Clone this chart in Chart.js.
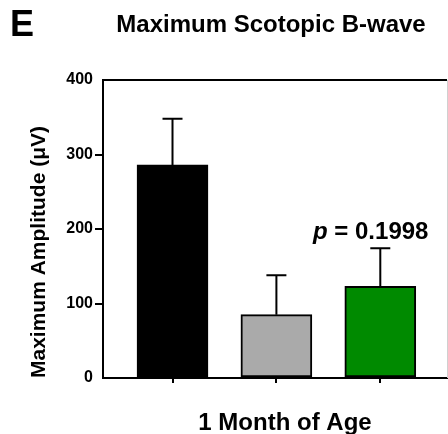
<!DOCTYPE html>
<html>
<head>
<meta charset="utf-8">
<script src="https://cdn.jsdelivr.net/npm/chart.js@4"></script>
<style>
  html, body { margin: 0; padding: 0; background: #fff; }
  #wrap { width: 448px; height: 434px; }
</style>
</head>
<body>
<div id="wrap"><canvas id="chart" width="448" height="434"></canvas></div>
<script>
// data
const groups = [1, 2, 3];
const means = [286, 85, 123];
const errors = [62, 53, 51];
const barColors = ['#000000', '#aaaaaa', '#008a00'];
const yTicks = [0, 100, 200, 300, 400];
const panelLetter = 'E';
const titleText = 'Maximum Scotopic B-wave';
const xTitle = '1 Month of Age';
const yTitle = 'Maximum Amplitude (\u03BCV)';
const pLabel = ['p', ' = 0.1998'];

const FONT = 'Arial, "Liberation Sans", sans-serif';

const extras = {
  id: 'extras',
  afterDatasetsDraw(chart) {
    const ctx = chart.ctx;
    const x = chart.scales.x, y = chart.scales.y;
    ctx.save();
    // error bars (upper whisker only)
    ctx.strokeStyle = '#000';
    ctx.lineWidth = 2;
    groups.forEach((g, i) => {
      const px = x.getPixelForValue(g);
      const y0 = y.getPixelForValue(means[i]);
      const y1 = y.getPixelForValue(means[i] + errors[i]);
      ctx.beginPath();
      ctx.moveTo(px, y0);
      ctx.lineTo(px, y1);
      ctx.moveTo(px - 10, y1);
      ctx.lineTo(px + 10, y1);
      ctx.stroke();
    });
    // frame top + right
    const a = chart.chartArea;
    ctx.beginPath();
    ctx.moveTo(a.left, a.top);
    ctx.lineTo(a.right, a.top);
    ctx.stroke();
    ctx.strokeStyle = '#d0d0d0';
    ctx.lineWidth = 1;
    ctx.beginPath();
    ctx.moveTo(a.right + 0.5, a.top);
    ctx.lineTo(a.right + 0.5, a.bottom);
    ctx.stroke();
    ctx.restore();
  },
  afterDraw(chart) {
    const ctx = chart.ctx;
    ctx.save();
    ctx.fillStyle = '#000';
    ctx.textBaseline = 'alphabetic';
    ctx.font = 'bold 36px ' + FONT;
    ctx.textAlign = 'left';
    ctx.fillText(panelLetter, 10, 36);
    ctx.font = 'bold 24px ' + FONT;
    ctx.textAlign = 'center';
    ctx.fillText(titleText, 271, 32);
    ctx.font = 'bold 24px ' + FONT;
    ctx.fillText(xTitle, 285, 430);
    // p value
    ctx.textAlign = 'left';
    ctx.font = 'italic bold 24px ' + FONT;
    ctx.fillText(pLabel[0], 313, 239);
    const w = ctx.measureText(pLabel[0]).width;
    ctx.font = 'bold 24px ' + FONT;
    ctx.fillText(pLabel[1], 313 + w, 239);
    ctx.restore();
  }
};

new Chart(document.getElementById('chart'), {
  type: 'bar',
  data: {
    datasets: [{
      data: groups.map((g, i) => ({ x: g, y: means[i] })),
      backgroundColor: barColors,
      borderColor: '#000',
      borderWidth: 2,
      borderSkipped: false,
      barThickness: 71
    }]
  },
  options: {
    responsive: false,
    animation: false,
    layout: { padding: { top: 80, right: 1, left: 0, bottom: 0 } },
    plugins: { legend: { display: false }, tooltip: { enabled: false } },
    scales: {
      x: {
        type: 'linear',
        offset: false,
        min: 0.331,
        max: 3.642,
        afterBuildTicks: axis => { axis.ticks = groups.map(v => ({ value: v })); },
        afterFit: axis => { axis.height = 56; },
        ticks: { callback: () => '', padding: 0 },
        grid: { offset: false, drawOnChartArea: false, tickLength: 5, color: '#000', lineWidth: 2 },
        border: { color: '#000', width: 2 }
      },
      y: {
        min: 0,
        max: 400,
        afterBuildTicks: axis => { axis.ticks = yTicks.map(v => ({ value: v })); },
        afterFit: axis => { axis.width = 103; },
        ticks: { color: '#000', font: { family: FONT, size: 16, weight: 'bold' }, padding: 2 },
        grid: {
          drawOnChartArea: false,
          tickLength: 8,
          lineWidth: 2,
          tickColor: c => (c.tick && (c.tick.value === 0 || c.tick.value === 400)) ? 'rgba(0,0,0,0)' : '#000'
        },
        border: { color: '#000', width: 2 },
        title: {
          display: true,
          text: yTitle,
          align: 'start',
          color: '#000',
          font: { family: FONT, size: 21, weight: 'bold' },
          padding: { top: 27, bottom: 0 }
        }
      }
    }
  },
  plugins: [extras]
});
</script>
</body>
</html>
